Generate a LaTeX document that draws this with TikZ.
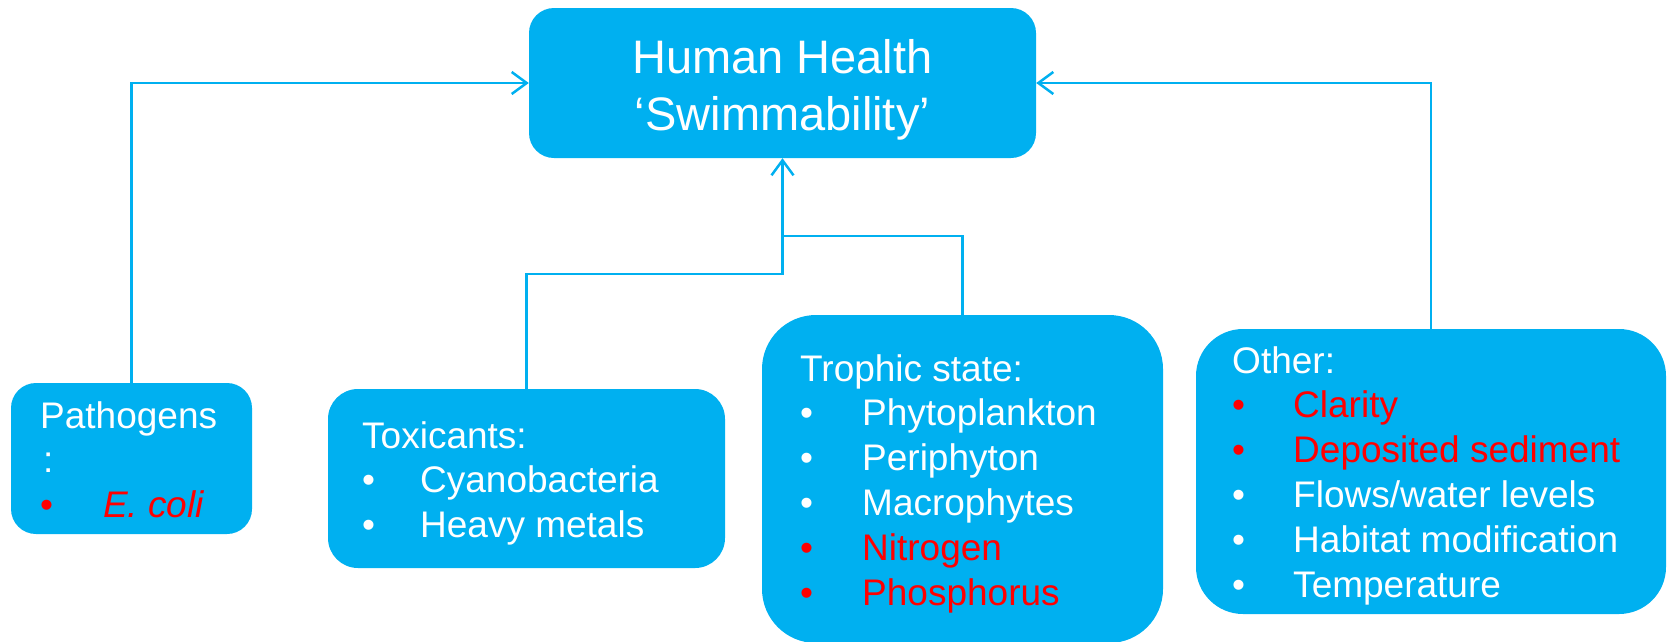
\documentclass[tikz,border=0pt]{standalone}
\usepackage{fontspec}
\setmainfont{Liberation Sans}
\usetikzlibrary{arrows.meta}
\definecolor{skyblue}{HTML}{00B0F0}
\definecolor{hotred}{HTML}{FF0000}

\begin{document}
\begin{tikzpicture}
[x=1pt,y=-1pt,%
  box/.style={shape=rectangle,fill=skyblue,draw=none,inner sep=0pt},%
  txt/.style={anchor=base west,inner sep=0pt,text=white,font=\fontsize{37}{44}\selectfont},%
  headtxt/.style={anchor=base,inner sep=0pt,text=white,font=\fontsize{47}{57}\selectfont},%
  link/.style={draw=skyblue,line width=2.5pt},%
  tip/.style={-{Straight Barb[length=15pt,width=22pt]}}]
\useasboundingbox (0,0) rectangle (1670,641);
% boxes
\node[box,rounded corners=25pt,minimum width=507pt,minimum height=150pt] (health) at (782.5,83) {};
\node[box,rounded corners=25pt,minimum width=241pt,minimum height=151pt] (pathogens) at (131.5,458.5) {};
\node[box,rounded corners=30pt,minimum width=397pt,minimum height=179pt] (toxicants) at (526.5,478.5) {};
\node[box,rounded corners=54pt,minimum width=401pt,minimum height=328pt] (trophic) at (962.5,479) {};
\node[box,rounded corners=47pt,minimum width=470pt,minimum height=285pt] (other) at (1431,471.5) {};
% title
\node[headtxt] (title-a) at (782.5,73) {Human Health};
\node[headtxt] (title-b) at (782.5,130) {‘Swimmability’};
% pathogens
\node[txt] (path-head) at (40,428) {Pathogens};
\node[txt] (path-colon) at (43,472) {:};
\node[txt,text=hotred] (path-bul) at (40,517) {•};
\node[txt,text=hotred,font=\fontsize{37}{44}\selectfont\itshape] (path-item) at (103,517) {E. coli};
% toxicants
\node[txt] (tox-head) at (362,448) {Toxicants:};
\foreach \lbl [count=\i] in {Cyanobacteria,Heavy metals}{
  \node[txt] (tox-bul-\i) at (362,448+44.6*\i) {•};
  \node[txt] (tox-item-\i) at (420,448+44.6*\i) {\lbl};
}
% trophic state
\node[txt] (troph-head) at (800,381) {Trophic state:};
\foreach \lbl/\col [count=\i] in {Phytoplankton/white,Periphyton/white,Macrophytes/white,Nitrogen/hotred,Phosphorus/hotred}{
  \node[txt,text=\col] (troph-bul-\i) at (800,381+44.8*\i) {•};
  \node[txt,text=\col] (troph-item-\i) at (862,381+44.8*\i) {\lbl};
}
% other
\node[txt] (other-head) at (1232,373) {Other:};
\foreach \lbl/\col [count=\i] in {Clarity/hotred,Deposited sediment/hotred,Flows\slash water levels/white,Habitat modification/white,Temperature/white}{
  \node[txt,text=\col] (other-bul-\i) at (1232,373+44.8*\i) {•};
  \node[txt,text=\col] (other-item-\i) at (1293,373+44.8*\i) {\lbl};
}
% connectors
\coordinate (upper join) at (782.5,236);
\coordinate (lower join) at (782.5,274);
\draw[link,tip] (pathogens.north) |- (health.west);
\draw[link,tip] (other.north) |- (health.east);
\draw[link] (trophic.north) |- (upper join);
\draw[link,tip] (toxicants.north) |- (lower join) -- (health.south);
\end{tikzpicture}
\end{document}
